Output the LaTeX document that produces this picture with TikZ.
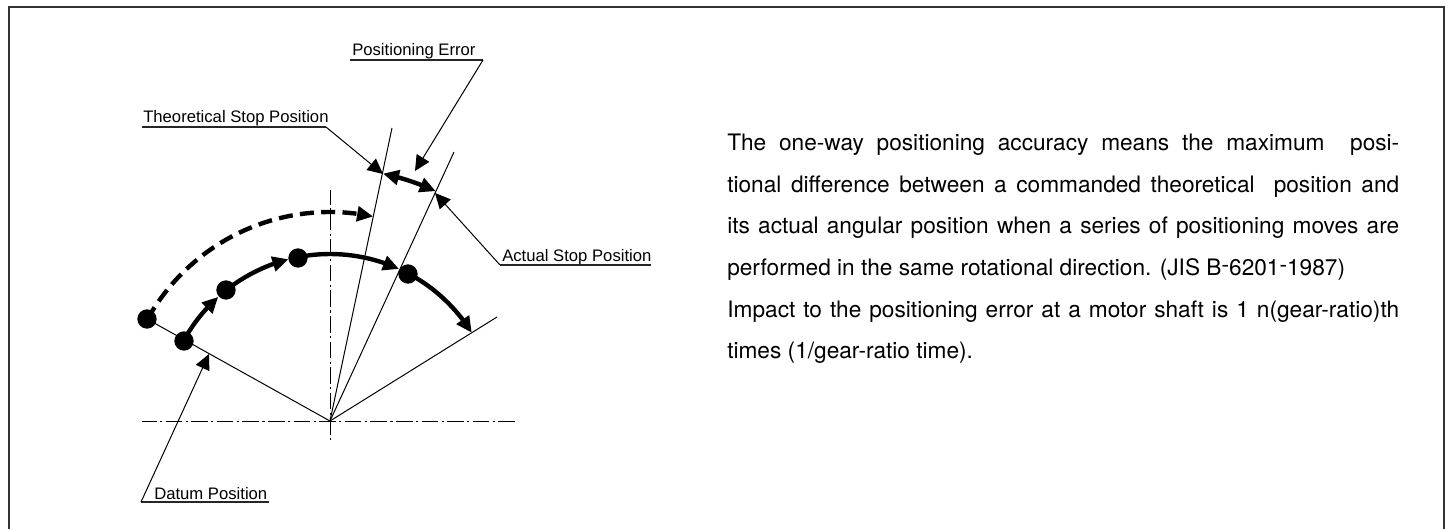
\documentclass[tikz,border=0pt]{standalone}
\usepackage{fontspec}
\setmainfont{TeX Gyre Heros}
\newfontfamily\labelfont{Liberation Sans}
\usetikzlibrary{arrows.meta,bending}
\tikzset{
  x=0.75pt,y=0.75pt,
  frameline/.style={line width=1.2pt,draw=black!80},
  thin line/.style={line width=0.75pt,black},
  centre line/.style={line width=0.75pt,black,dash pattern=on 12.4pt off 2.6pt on 1.6pt off 2.6pt,dash phase=1.5pt},
  heavy/.style={line width=3.3pt,black},
  heavy arrow/.style={heavy,-{Triangle[length=12pt,width=11pt,flex]}},
  heavy both/.style={heavy,{Triangle[length=12pt,width=11pt,flex]}-{Triangle[length=12pt,width=11pt,flex]}},
  heavy dash/.style={heavy arrow,dash pattern=on 10.5pt off 5.5pt},
  leader/.style={line width=0.75pt,black,-{Triangle[length=11.5pt,width=11pt]}},
  under/.style={line width=0.9pt,black!85},
  dot/.style={circle,fill=black,inner sep=0pt,minimum size=14.5pt},
  tag/.style={anchor=base west,inner sep=0pt,font=\labelfont\fontsize{12.5pt}{15pt}\selectfont},
  para/.style={anchor=base west,inner sep=0pt,font=\fontsize{17pt}{20pt}\selectfont}
}
\begin{document}
\begin{tikzpicture}
\useasboundingbox (0,0) rectangle (1450,-529);
\draw[frameline] (9,-529) -- (9,-7) -- (1444,-7) -- (1444,-529);

\coordinate (O) at (330,-421);
% centre lines
\coordinate (hl) at (142,-421); \coordinate (hr) at (518,-421);
\coordinate (vt) at (330,-190); \coordinate (vb) at (330,-440);
\draw[centre line] (hl) -- (hr);
\draw[centre line] (vt) -- (vb);

% radial lines
\node[dot] (d1) at (147,-319) {};
\node[dot] (d2) at (184,-341) {};
\node[dot] (d3) at (226,-290) {};
\node[dot] (d4) at (298,-258) {};
\node[dot] (d5) at (408,-274) {};
\coordinate (theo) at (392,-128);
\coordinate (act) at (454,-152);
\coordinate (endl) at (497,-317);
\draw[thin line] (O) -- (d1.center);
\draw[thin line] (O) -- (theo);
\draw[thin line] (O) -- (act);
\draw[thin line] (O) -- (endl);

% heavy arcs
\draw[heavy dash] (O) ++(150.9:209) arc[start angle=150.9,end angle=78.1,radius=209];
\draw[heavy arrow] (O) ++(151.3:167) arc[start angle=151.3,end angle=132,radius=167];
\draw[heavy arrow] (O) ++(128.4:167) arc[start angle=128.4,end angle=104.4,radius=167];
\draw[heavy arrow] (O) ++(101.1:167) arc[start angle=101.1,end angle=65.6,radius=167];
\draw[heavy arrow] (O) ++(62:167) arc[start angle=62,end angle=31.9,radius=167];
\draw[heavy both] (O) ++(77.9:253) arc[start angle=77.9,end angle=65.3,radius=253];

% labels
\node[tag] (pe) at (352,-55) {Positioning Error};
\coordinate (peA) at (350,-60); \coordinate (peB) at (483,-60); \coordinate (peT) at (415,-171);
\draw[under] (peA) -- (peB);
\draw[leader] (peB) -- (peT);

\node[tag] (ts) at (143,-122) {Theoretical Stop Position};
\coordinate (tsA) at (142,-127); \coordinate (tsB) at (326,-127); \coordinate (tsT) at (383,-174);
\draw[under] (tsA) -- (tsB);
\draw[leader] (tsB) -- (tsT);

\node[tag] (as) at (502,-261) {Actual Stop Position};
\coordinate (asA) at (500,-265); \coordinate (asB) at (651,-265); \coordinate (asT) at (435,-193);
\draw[under] (asA) -- (asB);
\draw[leader] (asA) -- (asT);

\node[tag] (dp) at (154,-499) {Datum Position};
\coordinate (dpA) at (141,-502); \coordinate (dpB) at (269,-502); \coordinate (dpT) at (209,-354);
\draw[under] (dpA) -- (dpB);
\draw[leader] (dpA) -- (dpT);

% paragraph
\node[para] (l1) at (727,-150.5) {\makebox[504pt][s]{The one-way positioning accuracy means the maximum\ \ posi-}};
\node[para] (l2) at (727,-192) {\makebox[504pt][s]{tional difference between a commanded theoretical\ \ position and}};
\node[para] (l3) at (727,-233.7) {\makebox[504pt][s]{its actual angular position when a series of positioning moves are}};
\node[para] (l4) at (727,-275) {performed in the same rotational direction. (JIS B\raisebox{2pt}{-}6201\raisebox{2pt}{-}1987)};
\node[para] (l5) at (727,-317) {\makebox[504pt][s]{Impact to the positioning error at a motor shaft is 1 n(gear-ratio)th}};
\node[para] (l6) at (727,-358.5) {times (1/gear-ratio time).};
\end{tikzpicture}
\end{document}
